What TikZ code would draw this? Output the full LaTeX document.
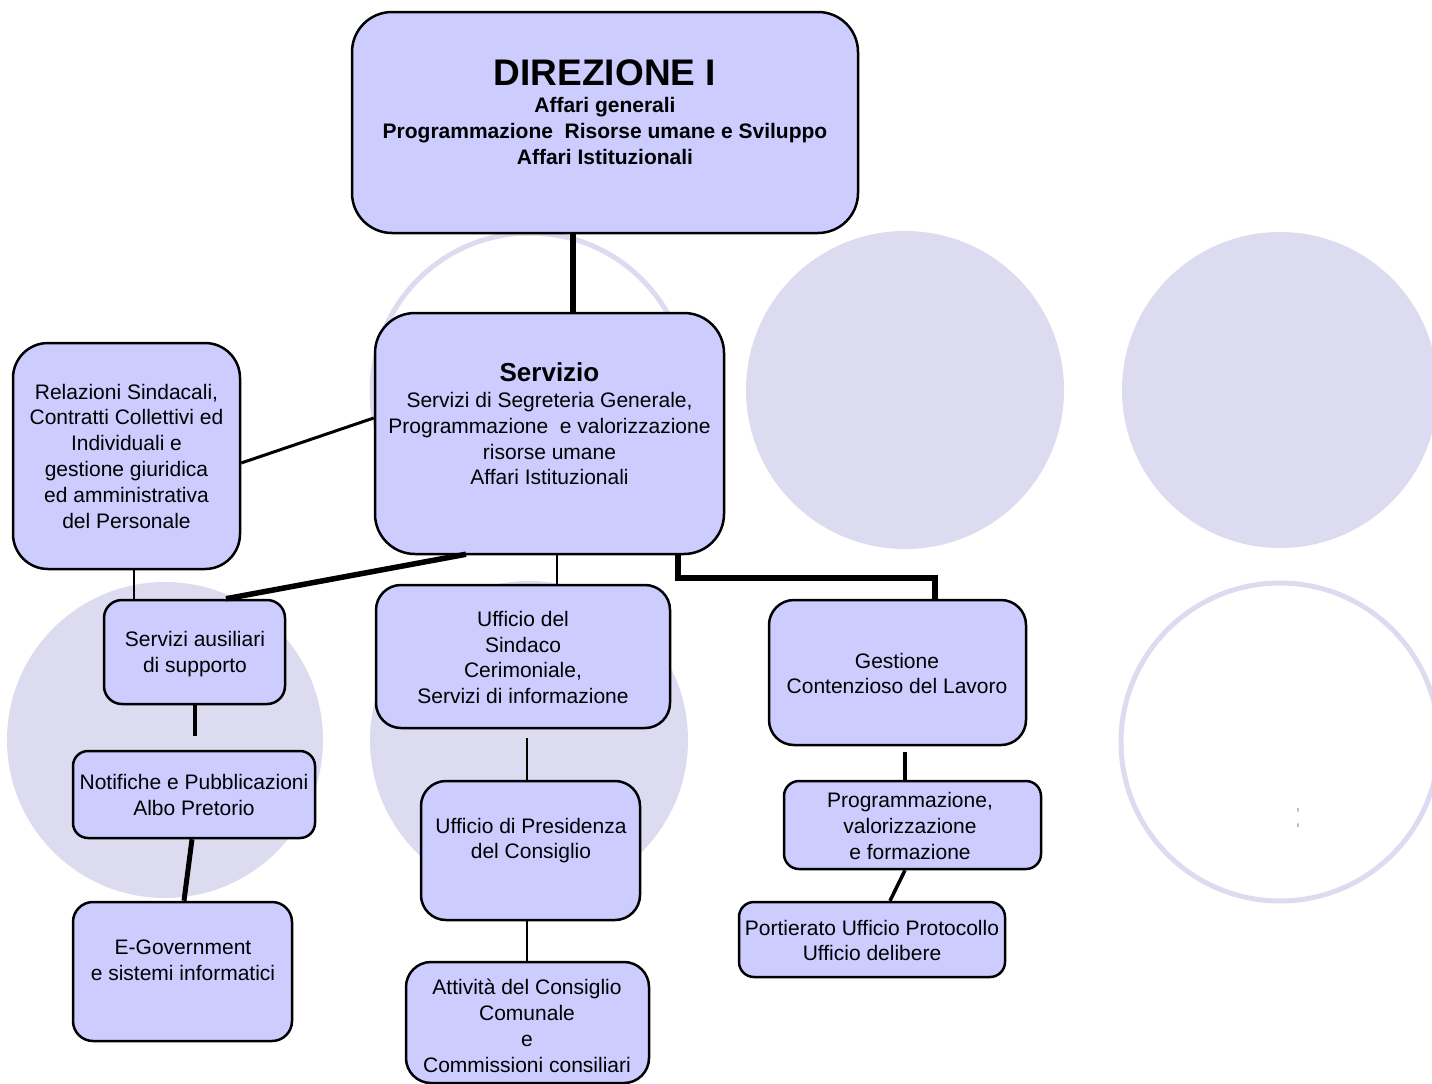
\documentclass[tikz,border=0pt]{standalone}
\usepackage{fontspec}
\setmainfont{Liberation Sans}
\definecolor{boxfill}{RGB}{204,204,255}
\definecolor{circfill}{RGB}{220,219,239}
\begin{document}
\begin{tikzpicture}[x=1pt,y=-1pt,
  box/.style={draw=black, line width=2.5pt, fill=boxfill, inner sep=0pt, rectangle},
  txt/.style={align=center, font=\fontsize{21}{25.8}\selectfont, inner sep=0pt},
  btxt/.style={align=center, font=\bfseries\fontsize{21}{25.8}\selectfont, inner sep=0pt},
  circf/.style={fill=circfill},
  circo/.style={draw=circfill, line width=5pt},
  conn/.style={draw=black, line width=#1, line cap=butt, line join=miter}
]
\useasboundingbox (0,0) rectangle (1432,1084);
\begin{scope}
\clip (0,0) rectangle (1432,1084);
\draw[circo] (530,391) circle[radius=158];
\fill[circf] (905,390) circle[radius=159];
\fill[circf] (1280,390) circle[radius=158];
\fill[circf] (165,740) circle[radius=158];
\fill[circf] (529,740) circle[radius=159];
\draw[circo] (1280,742) circle[radius=159];
\end{scope}

% boxes
\node[box, rounded corners=40pt, minimum width=506pt, minimum height=221pt] (top) at (605,122.5) {};
\node[box, rounded corners=40pt, minimum width=349pt, minimum height=241pt] (serv) at (549.5,433.5) {};
\node[box, rounded corners=35pt, minimum width=227pt, minimum height=226pt] (rel) at (126.5,456) {};
\node[box, rounded corners=18pt, minimum width=181pt, minimum height=104pt] (aux) at (194.5,652) {};
\node[box, rounded corners=25pt, minimum width=294pt, minimum height=143pt] (sind) at (523,656.5) {};
\node[box, rounded corners=25pt, minimum width=257pt, minimum height=145pt] (gest) at (897.5,672.5) {};
\node[box, rounded corners=15pt, minimum width=242pt, minimum height=87pt] (notif) at (194,794.5) {};
\node[box, rounded corners=25pt, minimum width=219pt, minimum height=139pt] (pres) at (530.5,850.5) {};
\node[box, rounded corners=15pt, minimum width=257pt, minimum height=88pt] (prog) at (912.5,825) {};
\node[box, rounded corners=20pt, minimum width=219pt, minimum height=139pt] (egov) at (182.5,971.5) {};
\node[box, rounded corners=25pt, minimum width=243pt, minimum height=121pt] (att) at (527.5,1022.5) {};
\node[box, rounded corners=15pt, minimum width=266pt, minimum height=75pt] (port) at (872,939.5) {};

% texts
\node[btxt] (ttop) at (605,112) {{\fontsize{37}{40}\selectfont DIREZIONE I}\\[2pt]Affari generali\\Programmazione\ \ Risorse umane e Sviluppo\\Affari Istituzionali};
\node[txt] (tserv) at (549.5,424) {{\bfseries\fontsize{26}{28}\selectfont Servizio}\\Servizi di Segreteria Generale,\\Programmazione\ \ e valorizzazione\\risorse umane\\Affari Istituzionali};
\node[txt] (trel) at (126.5,456) {Relazioni Sindacali,\\Contratti Collettivi ed\\Individuali e\\gestione giuridica\\ed amministrativa\\del Personale};
\node[txt] (taux) at (195,654) {Servizi ausiliari\\di supporto};
\node[txt] (tsind) at (523,657.5) {Ufficio del\\Sindaco\\Cerimoniale,\\Servizi di informazione};
\node[txt] (tgest) at (897,673.5) {Gestione\\Contenzioso del Lavoro};
\node[txt] (tnotif) at (194,795) {Notifiche e Pubblicazioni\\Albo Pretorio};
\node[txt] (tpres) at (531,840.5) {Ufficio di Presidenza\\del Consiglio};
\node[txt] (tprog) at (910,826) {Programmazione,\\valorizzazione\\e formazione};
\node[txt] (tegov) at (183,960) {E-Government\\e sistemi informatici};
\node[txt] (tatt) at (527,1026) {Attivit\`a del Consiglio\\Comunale\\e\\Commissioni consiliari};
\node[txt] (tport) at (872,940.5) {Portierato Ufficio Protocollo\\Ufficio delibere};
\node[inner sep=0pt, text=black!60, font=\fontsize{36}{38}\selectfont] (colon) at (1298,818) {\scalebox{0.25}[1]{:}};

% connectors
\draw[conn=6pt] ([xshift=-32pt]top.south) -- ([xshift=23.5pt]serv.north);
\draw[conn=3pt] ([yshift=-7pt]rel.east) -- ([yshift=15.5pt]serv.west);
\draw[conn=2.5pt] ([xshift=7.5pt]rel.south) -- ([xshift=7.5pt]rel.south |- aux.north);
\draw[conn=5.5pt] ([xshift=-83.5pt,yshift=1pt]serv.south) -- ([xshift=31.5pt]aux.north);
\draw[conn=2.5pt] ([xshift=7.5pt]serv.south) -- ([xshift=7.5pt]serv.south |- sind.north);
\draw[conn=6pt] ([xshift=128.5pt]serv.south) -- ++(0,23) -| ([xshift=37.5pt]gest.north);
\draw[conn=4.5pt] ([xshift=0.5pt]aux.south) -- ++(0,31);
\draw[conn=5pt] ([xshift=-2pt]notif.south) -- ([xshift=1.5pt]egov.north);
\draw[conn=2.5pt] ([xshift=4pt,yshift=-9pt]sind.south) -- ([xshift=-3.5pt]pres.north);
\draw[conn=2.5pt] ([xshift=-3.5pt]pres.south) -- ([xshift=-0.5pt]att.north);
\draw[conn=4.5pt] ([xshift=7.5pt,yshift=-6pt]gest.south) -- ([xshift=-7.5pt]prog.north);
\draw[conn=3.5pt] ([xshift=-7.5pt]prog.south) -- ([xshift=18pt]port.north);
\end{tikzpicture}
\end{document}
